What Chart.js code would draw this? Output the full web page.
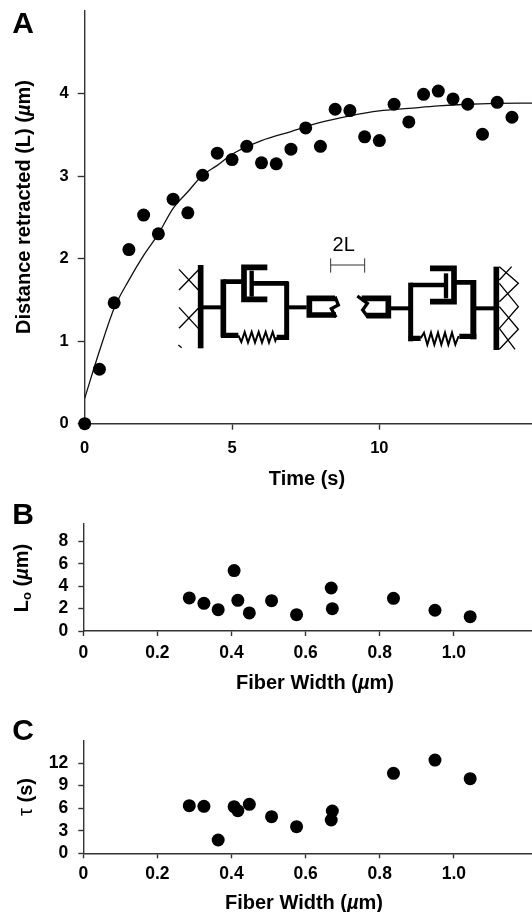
<!DOCTYPE html>
<html>
<head>
<meta charset="utf-8">
<title>Fiber retraction</title>
<script src="https://cdn.jsdelivr.net/npm/chart.js@4/dist/chart.umd.min.js"></script>
<style>
    html, body { margin: 0; padding: 0; background: #fff; }
    body { position: relative; width: 532px; height: 912px; overflow: hidden; font-family: "Liberation Sans", Arial, sans-serif; color: #000; }
    canvas { position: absolute; left: 0; }
    .txt { position: absolute; font-weight: bold; white-space: nowrap; transform: translate(-50%, -50%); line-height: 1; }
    .rot { transform: translate(-50%, -50%) rotate(-90deg); }
    .letter { font-size: 30px; }
    .title { font-size: 20px; }
    .txt sub { font-size: 13px; vertical-align: -3px; line-height: 0; }
    .tau { font-weight: normal; }
    #inset { position: absolute; left: 170px; top: 230px; }
</style>
</head>
<body>
<canvas id="panelA" width="532" height="495" style="top:0"></canvas>
<canvas id="panelB" width="532" height="190" style="top:510px"></canvas>
<canvas id="panelC" width="532" height="182" style="top:730px"></canvas>

<div class="txt letter" style="left:23px;top:23px">A</div>
<div class="txt letter" style="left:23px;top:514px">B</div>
<div class="txt letter" style="left:23px;top:730px">C</div>

<div class="txt title rot" style="left:23px;top:207px">Distance retracted (L) (<i>µ</i>m)</div>
<div class="txt title" style="left:307px;top:478px">Time (s)</div>
<div class="txt title rot" style="left:21px;top:578px">L<sub>o</sub> (<i>µ</i>m)</div>
<div class="txt title" style="left:315px;top:682px">Fiber Width (<i>µ</i>m)</div>
<div class="txt title rot" style="left:25px;top:797px"><span class="tau">τ</span> (s)</div>
<div class="txt title" style="left:304px;top:902px">Fiber Width (<i>µ</i>m)</div>

<!-- sliding filament sketch, coordinates are a 3x grid over the inset area -->
<svg id="inset" width="362" height="130" viewBox="0 0 1086 390" fill="none" stroke="#000" stroke-linejoin="miter">
    <g stroke="#333" stroke-width="3">
        <path d="M482 105H584M482 85V128M584 85V128"/>
    </g>
    <text x="521" y="62" text-anchor="middle" font-size="60" fill="#000" stroke="none" font-family="Liberation Sans">2L</text>

    <!-- left wall -->
    <path d="M92 105V355" stroke-width="17"/>
    <path d="M27 118L85 180M27 180L85 120M27 232L85 295M27 295L85 235M25 345L35 353" stroke-width="4"/>
    <path d="M92 232H160" stroke-width="12"/>
    <!-- left element -->
    <path d="M160 322V148" stroke-width="17"/>
    <path d="M160 155H222M248 160H355" stroke-width="14"/>
    <path d="M292 112H222V208H292" stroke-width="17"/>
    <path d="M245 122V200" stroke-width="13"/>
    <path d="M350 155V329" stroke-width="15"/>
    <path d="M153 316H205M320 322H357" stroke-width="16"/>
    <path d="M205 316L214 336L224 306L234 338L245 306L255 338L266 306L276 338L287 306L297 338L308 306L316 332L320 322" stroke-width="6"/>
    <path d="M355 232H410" stroke-width="12"/>
    <!-- left hook -->
    <path d="M495 205H418V255H498" stroke-width="17"/>
    <path d="M495 200L505 225L484 236L498 262" stroke-width="10"/>
    <!-- right hook -->
    <path d="M575 205H655V257H590" stroke-width="17"/>
    <path d="M562 198L592 220L578 240L594 262" stroke-width="10"/>
    <path d="M660 235H718" stroke-width="12"/>
    <!-- right element -->
    <path d="M722 158V334" stroke-width="15"/>
    <path d="M722 165H828M850 157H918" stroke-width="14"/>
    <path d="M780 115H852V215H780" stroke-width="17"/>
    <path d="M828 130V205" stroke-width="13"/>
    <path d="M910 150V328" stroke-width="18"/>
    <path d="M716 325H752M868 319H919" stroke-width="16"/>
    <path d="M752 325L762 308L772 344L783 308L793 344L804 308L814 344L825 308L835 344L846 308L856 344L866 318" stroke-width="6"/>
    <path d="M918 235H975" stroke-width="12"/>
    <!-- right wall -->
    <path d="M979 110V360" stroke-width="17"/>
    <path d="M1025 110L988 150M988 110L1045 160L988 215M988 160L1045 230L988 295M988 230L1045 298L988 358M988 295L1035 358" stroke-width="4"/>
</svg>

<script>
/* Panel A: retraction over time */
const timeSeconds = [0, 0.5, 1, 1.5, 2, 2.5, 3, 3.5, 4, 4.5, 5, 5.5, 6, 6.5, 7, 7.5, 8, 8.5, 9, 9.5, 10, 10.5, 11, 11.5, 12, 12.5, 13, 13.5, 14, 14.5];
const retracted = [0, 0.66, 1.465, 2.11, 2.527, 2.30, 2.72, 2.555, 3.01, 3.277, 3.20, 3.36, 3.16, 3.148, 3.326, 3.584, 3.36, 3.81, 3.794, 3.475, 3.43, 3.87, 3.656, 3.99, 4.03, 3.935, 3.87, 3.507, 3.894, 3.713];

// fitted curve
const fitTime = [0, 0.5, 1, 1.5, 2, 2.5, 3, 3.5, 4, 4.5, 5, 6, 7, 8, 9, 10, 11, 12, 13, 14, 15.2];
const fitValue = [0.307, 0.88, 1.40, 1.74, 2.04, 2.30, 2.61, 2.81, 3.01, 3.13, 3.265, 3.43, 3.54, 3.65, 3.73, 3.79, 3.82, 3.85, 3.87, 3.88, 3.885];

/* Panels B and C: same fibers */
const fiberWidth = [0.286, 0.3255, 0.364, 0.407, 0.417, 0.448, 0.508, 0.5755, 0.669, 0.672, 0.837, 0.949, 1.044];
const lengthLo = [2.95, 2.47, 1.90, 5.39, 2.74, 1.61, 2.71, 1.46, 3.84, 1.99, 2.92, 1.85, 1.28];
const tauSeconds = [6.33, 6.24, 1.77, 6.2, 5.67, 6.51, 4.87, 3.54, 4.43, 5.62, 10.63, 12.4, 9.92];

/* Tick lists */
const timeTicks = [0, 5, 10];
const timeTickLabels = ['0', '5', '10'];
const retractedTicks = [0, 1, 2, 3, 4];
const widthTicks = [0, 0.2, 0.4, 0.6, 0.8, 1.0];
const widthTickLabels = ['0', '0.2', '0.4', '0.6', '0.8', '1.0'];
const loTicks = [0, 2, 4, 6, 8];
const tauTicks = [0, 3, 6, 9, 12];

const AXIS_COLOR = '#333';
const FONT = '"Liberation Sans", Arial, sans-serif';

function toPoints(xs, ys) {
    return xs.map((x, i) => ({ x: x, y: ys[i] }));
}

function dots(xs, ys) {
    return {
        data: toPoints(xs, ys),
        backgroundColor: '#000',
        borderWidth: 0,
        pointRadius: 6.5,
        pointBorderWidth: 0,
        clip: false,
        order: 1
    };
}

// Builds one linear axis pinned to a fixed size, so the plot area lands where the figure has it
function axis(o) {
    return {
        type: 'linear',
        min: 0,
        max: o.max,
        afterBuildTicks: s => { s.ticks = o.ticks.map(v => ({ value: v })); },
        afterFit: s => {
            if (o.width) s.width = o.width;
            if (o.height) s.height = o.height;
            // tick label overhang would otherwise push the plot area in
            s.paddingTop = s.paddingBottom = s.paddingLeft = s.paddingRight = 0;
        },
        border: { color: AXIS_COLOR, width: 1.4 },
        grid: {
            drawOnChartArea: false,
            color: AXIS_COLOR,
            tickColor: AXIS_COLOR,
            tickLength: o.tickLength,
            tickWidth: 1.4
        },
        ticks: {
            autoSkip: false,
            maxRotation: 0,
            padding: o.padding,
            color: '#000',
            font: { family: FONT, weight: 'bold', size: o.fontSize },
            callback: (v, i) => o.labels ? o.labels[i] : String(v)
        }
    };
}

function panel(id, datasets, layout, xAxis, yAxis) {
    new Chart(document.getElementById(id), {
        type: 'scatter',
        data: { datasets: datasets },
        options: {
            responsive: false,
            animation: false,
            devicePixelRatio: 1,
            layout: { autoPadding: false, padding: { top: layout.plotTop, left: 0, right: 0, bottom: 0 } },
            plugins: { legend: { display: false }, tooltip: { enabled: false } },
            scales: {
                x: axis(Object.assign({ height: layout.axisHeight }, xAxis)),
                y: axis(Object.assign({ width: layout.axisWidth }, yAxis))
            }
        }
    });
}

panel('panelA', [
    dots(timeSeconds, retracted),
    {
        data: toPoints(fitTime, fitValue),
        showLine: true,
        pointRadius: 0,
        borderColor: '#111',
        borderWidth: 1.3,
        cubicInterpolationMode: 'monotone',
        order: 2
    }
], { plotTop: 11, axisHeight: 71.3, axisWidth: 84.7 },
   { max: 15.18, ticks: timeTicks, labels: timeTickLabels, tickLength: 6, padding: 9, fontSize: 16.5 },
   { max: 5, ticks: retractedTicks, tickLength: 7, padding: 9, fontSize: 16.5 });

panel('panelB', [dots(fiberWidth, lengthLo)],
   { plotTop: 14, axisHeight: 69, axisWidth: 83.3 },
   { max: 1.2108, ticks: widthTicks, labels: widthTickLabels, tickLength: 5, padding: 7, fontSize: 17.5 },
   { max: 9.55, ticks: loTicks, tickLength: 5, padding: 10, fontSize: 17.5 });

panel('panelC', [dots(fiberWidth, tauSeconds)],
   { plotTop: 10.7, axisHeight: 58.7, axisWidth: 83.3 },
   { max: 1.2108, ticks: widthTicks, labels: widthTickLabels, tickLength: 5, padding: 5, fontSize: 17.5 },
   { max: 14.97, ticks: tauTicks, tickLength: 5, padding: 10, fontSize: 17.5 });
</script>
</body>
</html>
